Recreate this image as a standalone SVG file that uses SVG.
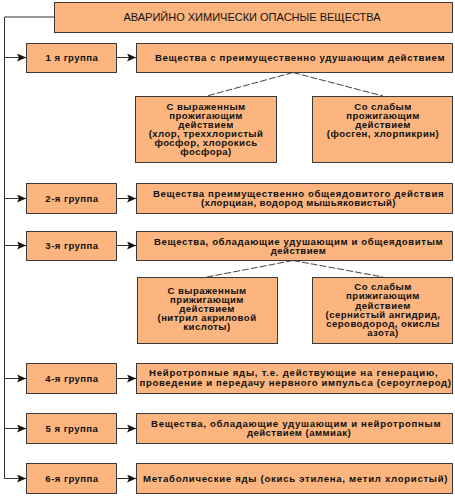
<svg xmlns="http://www.w3.org/2000/svg" width="455" height="497" viewBox="0 0 455 497">
<style>
.box{fill:#FCB57E;stroke:#3a3a3a;stroke-width:1}
.t{font-family:"Liberation Sans",Arial,sans-serif;font-size:9.6px;font-weight:bold;fill:#111;text-anchor:middle;letter-spacing:0.45px}
.title{font-family:"Liberation Sans",Arial,sans-serif;font-size:11px;fill:#111;text-anchor:middle}
.ln{fill:none;stroke:#333;stroke-width:1}
.ds{fill:none;stroke:#444;stroke-width:1;stroke-dasharray:7,2}
</style>
<defs>
<marker id="ah" markerWidth="10" markerHeight="8" refX="9" refY="4" orient="auto" markerUnits="userSpaceOnUse">
<path d="M0,0 L9,4 L0,8 L2,4 z" fill="#111"/>
</marker>
</defs>
<rect width="455" height="497" fill="#fff"/>
<g id="connectors">
<path class="ln" d="M54,17 H4.5 V478.5"/>
<line class="ln" x1="4.5" y1="57.5" x2="26" y2="57.5" marker-end="url(#ah)"/>
<line class="ln" x1="117" y1="57.5" x2="136" y2="57.5" marker-end="url(#ah)"/>
<line class="ln" x1="4.5" y1="198.5" x2="26" y2="198.5" marker-end="url(#ah)"/>
<line class="ln" x1="117" y1="198.5" x2="136" y2="198.5" marker-end="url(#ah)"/>
<line class="ln" x1="4.5" y1="245.5" x2="26" y2="245.5" marker-end="url(#ah)"/>
<line class="ln" x1="117" y1="245.5" x2="136" y2="245.5" marker-end="url(#ah)"/>
<line class="ln" x1="4.5" y1="378.5" x2="26" y2="378.5" marker-end="url(#ah)"/>
<line class="ln" x1="117" y1="378.5" x2="136" y2="378.5" marker-end="url(#ah)"/>
<line class="ln" x1="4.5" y1="428.5" x2="26" y2="428.5" marker-end="url(#ah)"/>
<line class="ln" x1="117" y1="428.5" x2="136" y2="428.5" marker-end="url(#ah)"/>
<line class="ln" x1="4.5" y1="478.5" x2="26" y2="478.5" marker-end="url(#ah)"/>
<line class="ln" x1="117" y1="478.5" x2="136" y2="478.5" marker-end="url(#ah)"/>
<path class="ds" d="M293,72.5 L207,96 M293,72.5 L383,96"/>
<path class="ds" d="M293,260.5 L207,277 M293,260.5 L383,277"/>
</g>
<g id="title">
<rect class="box" x="54.5" y="2.5" width="398" height="30"/>
<text class="title" x="252" y="21">АВАРИЙНО ХИМИЧЕСКИ ОПАСНЫЕ ВЕЩЕСТВА</text>
</g>
<g id="g1">
<rect class="box" x="26.5" y="43.5" width="90" height="29"/>
<text class="t" x="72" y="61">1 я группа</text>
</g>
<g id="g1d">
<rect class="box" x="136.5" y="43.5" width="316" height="29"/>
<text class="t" x="300" y="61" textLength="290" lengthAdjust="spacing">Вещества с преимущественно удушающим действием</text>
</g>
<g id="g1a">
<rect class="box" x="135.5" y="96.5" width="141" height="66"/>
<text class="t" x="206" y="109.5">С выраженным</text>
<text class="t" x="206" y="118.5">прожигающим</text>
<text class="t" x="206" y="127.5">действием</text>
<text class="t" x="206" y="136.5">(хлор, треххлористый</text>
<text class="t" x="206" y="145.5">фосфор, хлорокись</text>
<text class="t" x="206" y="154.5">фосфора)</text>
</g>
<g id="g1b">
<rect class="box" x="312.5" y="96.5" width="140" height="66"/>
<text class="t" x="383" y="109.5">Со слабым</text>
<text class="t" x="383" y="118.5">прожигающим</text>
<text class="t" x="383" y="127.5">действием</text>
<text class="t" x="383" y="136.5">(фосген, хлорпикрин)</text>
</g>
<g id="g2">
<rect class="box" x="26.5" y="183.5" width="90" height="30"/>
<text class="t" x="72" y="202">2-я группа</text>
</g>
<g id="g2d">
<rect class="box" x="136.5" y="183.5" width="316" height="30"/>
<text class="t" x="298.5" y="196.5" textLength="291" lengthAdjust="spacing">Вещества преимущественно общеядовитого действия</text>
<text class="t" x="298.5" y="206" textLength="195" lengthAdjust="spacing">(хлорциан, водород мышьяковистый)</text>
</g>
<g id="g3">
<rect class="box" x="26.5" y="231.5" width="90" height="29"/>
<text class="t" x="72" y="249">3-я группа</text>
</g>
<g id="g3d">
<rect class="box" x="136.5" y="231.5" width="316" height="29"/>
<text class="t" x="298.5" y="244.5" textLength="289" lengthAdjust="spacing">Вещества, обладающие удушающим и общеядовитым</text>
<text class="t" x="298.5" y="254">действием</text>
</g>
<g id="g3a">
<rect class="box" x="137.5" y="277.5" width="140" height="66"/>
<text class="t" x="207" y="293.5">С выраженным</text>
<text class="t" x="207" y="302.5">прижигающим</text>
<text class="t" x="207" y="311.5">действием</text>
<text class="t" x="207" y="321">(нитрил акриловой</text>
<text class="t" x="207" y="330">кислоты)</text>
</g>
<g id="g3b">
<rect class="box" x="312.5" y="277.5" width="140" height="66"/>
<text class="t" x="383" y="289.5">Со слабым</text>
<text class="t" x="383" y="298.5">прижигающим</text>
<text class="t" x="383" y="308.5">действием</text>
<text class="t" x="383" y="318">(сернистый ангидрид,</text>
<text class="t" x="383" y="327">сероводород, окислы</text>
<text class="t" x="383" y="336">азота)</text>
</g>
<g id="g4">
<rect class="box" x="26.5" y="363.5" width="90" height="30"/>
<text class="t" x="72" y="382">4-я группа</text>
</g>
<g id="g4d">
<rect class="box" x="136.5" y="363.5" width="316" height="30"/>
<text class="t" x="293.5" y="376" textLength="289" lengthAdjust="spacing">Нейротропные яды, т.е. действующие на генерацию,</text>
<text class="t" x="295.5" y="386" textLength="312" lengthAdjust="spacing">проведение и передачу нервного импульса (сероуглерод)</text>
</g>
<g id="g5">
<rect class="box" x="26.5" y="413.5" width="90" height="30"/>
<text class="t" x="72" y="432">5 я группа</text>
</g>
<g id="g5d">
<rect class="box" x="136.5" y="413.5" width="316" height="30"/>
<text class="t" x="296" y="427" textLength="290" lengthAdjust="spacing">Вещества, обладающие удушающим и нейротропным</text>
<text class="t" x="299" y="435.5">действием (аммиак)</text>
</g>
<g id="g6">
<rect class="box" x="26.5" y="463.5" width="90" height="30"/>
<text class="t" x="72" y="482">6-я группа</text>
</g>
<g id="g6d">
<rect class="box" x="136.5" y="463.5" width="316" height="30"/>
<text class="t" x="295.5" y="482" textLength="305" lengthAdjust="spacing">Метаболические яды (окись этилена, метил хлористый)</text>
</g>
</svg>
